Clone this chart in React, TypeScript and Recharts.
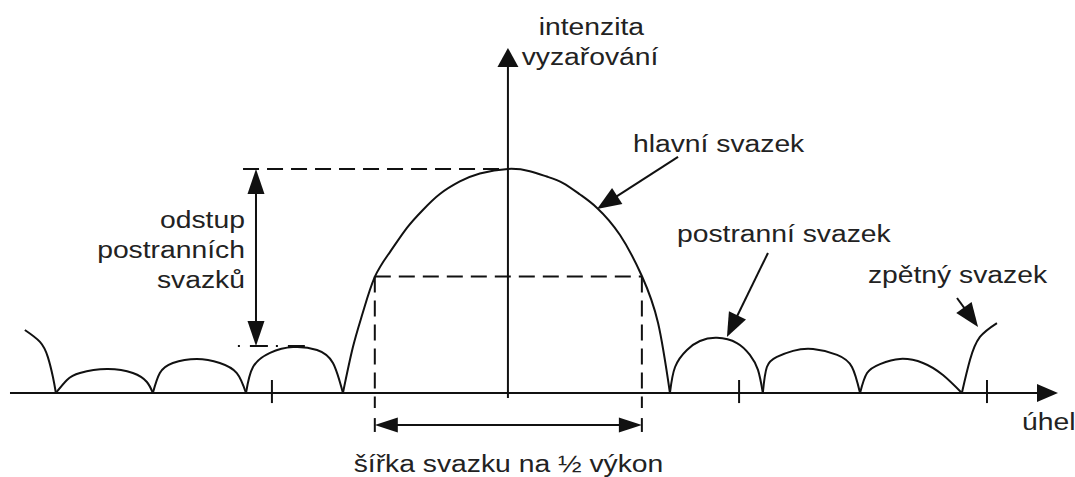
import React from 'react';
import { LineChart, Line, XAxis, YAxis, ReferenceLine, ReferenceDot } from 'recharts';

// angle in degrees (x), relative radiation intensity (y, main lobe peak = 1)
const X_DOMAIN: [number, number] = [-188.1, 210];
const Y_DOMAIN: [number, number] = [-0.375, 1.754];

const LOBE_EDGE_LEFT = [
  { a: -178.9, v: 0.281 }, { a: -173.3, v: 0.228 }, { a: -170.4, v: 0.161 }, { a: -168.5, v: 0.071 }, { a: -167.4, v: 0 },
];
const SIDE_L3 = [
  { a: -167.4, v: 0 }, { a: -163.3, v: 0.058 }, { a: -158.5, v: 0.089 }, { a: -148.5, v: 0.107 },
  { a: -138.9, v: 0.089 }, { a: -133.7, v: 0.049 }, { a: -131.5, v: 0 },
];
const SIDE_L2 = [
  { a: -131.5, v: 0 }, { a: -128.9, v: 0.089 }, { a: -124.1, v: 0.134 }, { a: -115.2, v: 0.152 },
  { a: -106.7, v: 0.134 }, { a: -100.4, v: 0.089 }, { a: -97, v: 0 },
];
const SIDE_L1 = [
  { a: -97, v: 0 }, { a: -94.4, v: 0.116 }, { a: -88.1, v: 0.179 }, { a: -79.6, v: 0.205 },
  { a: -70.7, v: 0.192 }, { a: -64.8, v: 0.134 }, { a: -61.1, v: 0 },
];
const MAIN_LOBE = [
  { a: -61.1, v: 0 }, { a: -57.4, v: 0.205 }, { a: -53.7, v: 0.36 },
  { a: -49.3, v: 0.518 }, { a: -43.7, v: 0.629 }, { a: -37.4, v: 0.737 }, { a: -31.5, v: 0.817 },
  { a: -25.2, v: 0.888 }, { a: -17.8, v: 0.944 }, { a: -10.4, v: 0.98 }, { a: 0, v: 1.0 },
  { a: 8.1, v: 0.99 }, { a: 14.4, v: 0.966 }, { a: 20.4, v: 0.937 }, { a: 26.7, v: 0.886 },
  { a: 33, v: 0.826 }, { a: 41.5, v: 0.705 }, { a: 49.6, v: 0.522 }, { a: 55.6, v: 0.312 },
  { a: 60, v: 0 },
];
const SIDE_R1 = [
  { a: 60, v: 0 }, { a: 61.9, v: 0.116 }, { a: 66.3, v: 0.192 }, { a: 71.1, v: 0.232 }, { a: 77.4, v: 0.246 },
  { a: 84.8, v: 0.223 }, { a: 89.6, v: 0.17 }, { a: 92.6, v: 0.103 }, { a: 94.4, v: 0 },
];
const SIDE_R2 = [
  { a: 94.4, v: 0 }, { a: 95.9, v: 0.116 }, { a: 99.6, v: 0.161 }, { a: 105.6, v: 0.188 }, { a: 113, v: 0.196 },
  { a: 121.9, v: 0.17 }, { a: 127.4, v: 0.116 }, { a: 130.4, v: 0 },
];
const SIDE_R3 = [
  { a: 130.4, v: 0 }, { a: 133, v: 0.089 }, { a: 137.8, v: 0.129 }, { a: 145.2, v: 0.152 },
  { a: 153.7, v: 0.134 }, { a: 161.1, v: 0.08 }, { a: 168.1, v: 0 },
];
const BACK_LOBE = [
  { a: 168.1, v: 0 }, { a: 171.1, v: 0.147 }, { a: 174.8, v: 0.25 }, { a: 181.1, v: 0.312 },
];

const LOBES = [LOBE_EDGE_LEFT, SIDE_L3, SIDE_L2, SIDE_L1, MAIN_LOBE, SIDE_R1, SIDE_R2, SIDE_R3, BACK_LOBE];

const AXIS_X_RANGE = [-184.4, 203.7];
const AXIS_Y_RANGE = [-0.022, 1.54];
const AXIS_TICKS = [-87.4, 85.6, 177.4];

const PEAK_LEVEL = 1.0;
const HALF_POWER_LEVEL = 0.52;
const SIDE_LOBE_LEVEL = 0.21;
const HALF_POWER_ANGLES = [-49.3, 49.6];
const GAP_ARROW_ANGLE = -93.3;
const WIDTH_ARROW_LEVEL = -0.143;

// pointer arrows: from (angle, level) to (angle, level)
const POINTERS = [
  { name: 'main', from: [63, 1.054], to: [33, 0.821] },
  { name: 'side', from: [96.3, 0.625], to: [81.1, 0.25] },
  { name: 'back', from: [166.3, 0.424], to: [174.1, 0.295] },
];

const LABELS = [
  { text: 'intenzita', a: 30.9, v: 1.598, anchor: 'middle' },
  { text: 'vyzařování', a: 30.4, v: 1.464, anchor: 'middle' },
  { text: 'hlavní svazek', a: 46.3, v: 1.076, anchor: 'start' },
  { text: 'postranní svazek', a: 62.6, v: 0.674, anchor: 'start' },
  { text: 'zpětný svazek', a: 133.3, v: 0.491, anchor: 'start' },
  { text: 'úhel', a: 190.4, v: -0.165, anchor: 'start' },
  { text: 'odstup', a: -97.4, v: 0.737, anchor: 'end' },
  { text: 'postranních', a: -97.4, v: 0.603, anchor: 'end' },
  { text: 'svazků', a: -97.4, v: 0.469, anchor: 'end' },
  { text: 'šířka svazku na ½ výkon', a: 0.2, v: -0.353, anchor: 'middle' },
];

const INK = '#111';
const TEXT_INK = '#222';
const STRETCH = 1.23;
const FONT = '"Liberation Sans", Arial, sans-serif';
const DASH = '16 8';

function arrowShape(heads: 'end' | 'both', len: number, wid: number) {
  return (p: any) => {
    const { x1, y1, x2, y2 } = p;
    const dx = x2 - x1;
    const dy = y2 - y1;
    const d = Math.hypot(dx, dy) || 1;
    const ux = dx / d;
    const uy = dy / d;
    const nx = -uy;
    const ny = ux;
    const head = (tx: number, ty: number, sx: number, sy: number) => {
      const bx = tx - sx * len;
      const by = ty - sy * len;
      return `${tx},${ty} ${bx + (nx * wid) / 2},${by + (ny * wid) / 2} ${bx - (nx * wid) / 2},${by - (ny * wid) / 2}`;
    };
    const sx = heads === 'both' ? x1 + ux * len * 0.8 : x1;
    const sy = heads === 'both' ? y1 + uy * len * 0.8 : y1;
    return (
      <g>
        <line x1={sx} y1={sy} x2={x2 - ux * len * 0.8} y2={y2 - uy * len * 0.8} stroke={INK} strokeWidth={2} />
        <polygon points={head(x2, y2, ux, uy)} fill={INK} />
        {heads === 'both' && <polygon points={head(x1, y1, -ux, -uy)} fill={INK} />}
      </g>
    );
  };
}

const labelShape = (text: string, anchor: string) => (p: any) => (
  <text
    transform={`translate(${p.cx},${p.cy}) scale(${STRETCH},1)`}
    textAnchor={anchor}
    fontSize={23}
    fontFamily={FONT}
    fill={TEXT_INK}
  >
    {text}
  </text>
);

export default function App() {
  return (
    <div style={{ position: 'absolute', left: 0, top: 0, background: '#fff' }}>
      <LineChart width={1075} height={477} margin={{ top: 0, right: 0, bottom: 0, left: 0 }}>
        <XAxis dataKey="a" type="number" domain={X_DOMAIN} allowDataOverflow hide />
        <YAxis type="number" domain={Y_DOMAIN} allowDataOverflow hide />

        {/* axes */}
        <ReferenceLine
          segment={[{ x: AXIS_X_RANGE[0], y: 0 }, { x: AXIS_X_RANGE[1], y: 0 }]}
          shape={arrowShape('end', 21, 18)}
        />
        <ReferenceLine
          segment={[{ x: 0, y: AXIS_Y_RANGE[0] }, { x: 0, y: AXIS_Y_RANGE[1] }]}
          shape={arrowShape('end', 19, 21)}
        />
        {AXIS_TICKS.map((t) => (
          <ReferenceLine
            key={`t${t}`}
            segment={[{ x: t, y: 0.058 }, { x: t, y: -0.045 }]}
            stroke={INK}
            strokeWidth={2}
          />
        ))}

        {/* dashed guide lines */}
        <ReferenceLine
          segment={[{ x: -98.1, y: PEAK_LEVEL }, { x: 0, y: PEAK_LEVEL }]}
          stroke={INK}
          strokeWidth={2}
          strokeDasharray={DASH}
        />
        <ReferenceLine
          segment={[{ x: -100, y: SIDE_LOBE_LEVEL }, { x: -75.2, y: SIDE_LOBE_LEVEL }]}
          stroke={INK}
          strokeWidth={2}
          strokeDasharray="2 10 18 8"
        />
        <ReferenceLine
          segment={[{ x: HALF_POWER_ANGLES[0], y: HALF_POWER_LEVEL }, { x: HALF_POWER_ANGLES[1], y: HALF_POWER_LEVEL }]}
          stroke={INK}
          strokeWidth={2}
          strokeDasharray={DASH}
        />
        {HALF_POWER_ANGLES.map((h) => (
          <ReferenceLine
            key={`hp${h}`}
            segment={[{ x: h, y: HALF_POWER_LEVEL }, { x: h, y: -0.067 }]}
            stroke={INK}
            strokeWidth={2}
            strokeDasharray={DASH}
          />
        ))}
        {HALF_POWER_ANGLES.map((h) => (
          <ReferenceLine
            key={`bar${h}`}
            segment={[{ x: h, y: -0.112 }, { x: h, y: -0.174 }]}
            stroke={INK}
            strokeWidth={2}
          />
        ))}

        {/* lobes */}
        {LOBES.map((lobe, i) => (
          <Line
            key={`lobe${i}`}
            data={lobe}
            dataKey="v"
            type="natural"
            stroke={INK}
            strokeWidth={2}
            dot={false}
            activeDot={false}
            isAnimationActive={false}
          />
        ))}

        {/* dimension arrows */}
        <ReferenceLine
          segment={[{ x: GAP_ARROW_ANGLE, y: SIDE_LOBE_LEVEL }, { x: GAP_ARROW_ANGLE, y: PEAK_LEVEL }]}
          shape={arrowShape('both', 25, 17)}
        />
        <ReferenceLine
          segment={[{ x: HALF_POWER_ANGLES[0], y: WIDTH_ARROW_LEVEL }, { x: HALF_POWER_ANGLES[1], y: WIDTH_ARROW_LEVEL }]}
          shape={arrowShape('both', 23, 15)}
        />
        {POINTERS.map((p) => (
          <ReferenceLine
            key={p.name}
            segment={[{ x: p.from[0], y: p.from[1] }, { x: p.to[0], y: p.to[1] }]}
            shape={arrowShape('end', 24, 19)}
          />
        ))}

        {LABELS.map((l) => (
          <ReferenceDot key={l.text} x={l.a} y={l.v} r={1} shape={labelShape(l.text, l.anchor)} />
        ))}
      </LineChart>
    </div>
  );
}
